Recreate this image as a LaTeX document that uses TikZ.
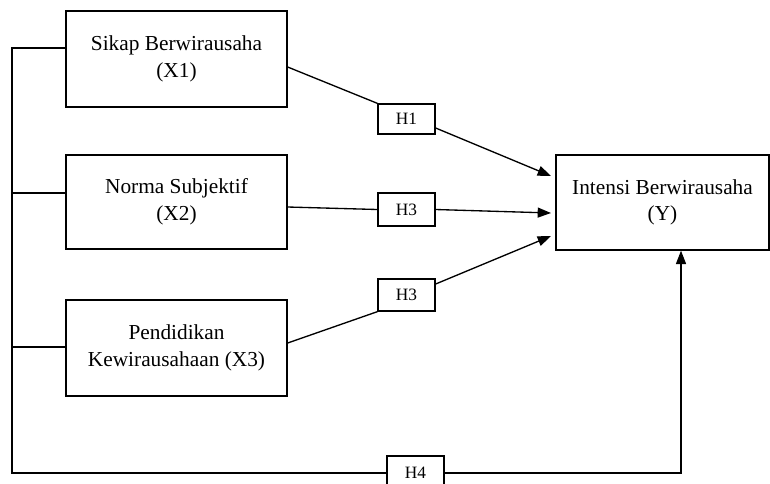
\documentclass[tikz,border=0pt]{standalone}
\usepackage{fontspec}
\setmainfont{Liberation Serif}
\usetikzlibrary{arrows.meta}

\begin{document}
\begin{tikzpicture}[x=0.75pt,y=-0.75pt,
        var/.style={draw,line width=1pt,align=center,font=\fontsize{16}{20}\selectfont},
        hyp/.style={draw,line width=1pt,minimum width=42.75pt,font=\fontsize{13}{15}\selectfont},
        link/.style={line width=1pt},
        arr/.style={line width=1pt,-{Triangle[length=10pt,width=7.5pt]}}]
        \useasboundingbox (0,0) rectangle (770,483);
        % Draw variable boxes
        \node[var,minimum width=165.75pt,minimum height=72pt] (x1) at (176.5,59) {Sikap Berwirausaha\\(X1)};
        \node[var,minimum width=165.75pt,minimum height=70.5pt] (x2) at (176.5,202) {Norma Subjektif\\(X2)};
        \node[var,minimum width=165.75pt,minimum height=72pt] (x3) at (176.5,348) {Pendidikan\\Kewirausahaan (X3)};
        \node[var,minimum width=159.75pt,minimum height=71.25pt] (y) at (662.5,202.5) {Intensi Berwirausaha\\(Y)};
        
        % Draw hypothesis labels
        \node[hyp,minimum height=22.5pt] (h1) at (406.5,119) {H1};
        \node[hyp,minimum height=24.75pt] (h3a) at (406.5,209.5) {H3};
        \node[hyp,minimum height=24pt] (h3b) at (406.5,295) {H3};
        \node[hyp,minimum height=25.5pt] (h4) at (415.5,473) {H4};
        
        % Arrow ends at Y
        \coordinate (t1) at (551,176);
        \coordinate (t2) at (551,213);
        \coordinate (t3) at (551,236);
        
        % Draw direct paths
        \draw[link] ([yshift=-6pt]x1.east) -- (h1.north west);
        \draw[arr] ([yshift=-6.75pt]h1.east) -- (t1);
        \draw[link] ([yshift=-3.75pt]x2.east) -- (h3a.west);
        \draw[arr] (h3a.east) -- (t2);
        \draw[link] ([yshift=3.75pt]x3.east) -- (h3b.south west);
        \draw[arr] ([yshift=8.25pt]h3b.east) -- (t3);
        
        % Draw joint path
        \coordinate (b1) at (12,48);
        \coordinate (b2) at (12,193);
        \coordinate (b3) at (12,347);
        \coordinate (b4) at (12,473);
        \coordinate (c4) at (681,473);
        \draw[link] (b1 -| x1.west) -- (b1) -- (b4) -- (h4.west);
        \draw[link] (b2) -- (b2 -| x2.west);
        \draw[link] (b3) -- (b3 -| x3.west);
        \draw[arr] (h4.east) -- (c4) -- (c4 |- y.south);
\end{tikzpicture}
\end{document}
